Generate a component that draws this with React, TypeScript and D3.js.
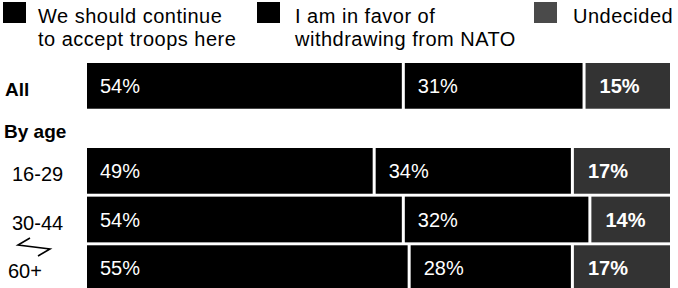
import React from "react";
import * as d3 from "d3";

const seriesNames = ["continue", "withdraw", "undecided"];
const legendLines = [
  ["We should continue", "to accept troops here"],
  ["I am in favor of", "withdrawing from NATO"],
  ["Undecided"],
];
const allValues = [54, 31, 15];
const ageGroups = ["16-29", "30-44", "60+"];
const ageValues = [
  [49, 34, 17],
  [54, 32, 14],
  [55, 28, 17],
];
const headerAll = "All";
const headerAge = "By age";

const W = 678;
const H = 288;
const colors = ["#000000", "#000000", "#333333"];
const FONT = "'Liberation Sans', Arial, Helvetica, sans-serif";

function BarRow({ values, y, h, x }: { values: number[]; y: number; h: number; x: d3.ScaleLinear<number, number> }) {
  const stack = d3.cumsum(values);
  return (
    <g>
      {values.map((v, i) => {
        const start = i === 0 ? 0 : stack[i - 1];
        const end = stack[i];
        const x0 = x(start) + (i === 0 ? 0 : 3);
        const x1 = x(end);
        return (
          <g key={i}>
            <rect x={x0} y={y} width={x1 - x0} height={h} fill={colors[i]} />
            <text
              x={x0 + (i === 2 ? 14 : 13)}
              y={y + h / 2 + 7}
              fill="#fff"
              fontSize={20}
              fontWeight={i === 2 ? "bold" : "normal"}
              fontFamily={FONT}
            >
              {v}%
            </text>
          </g>
        );
      })}
    </g>
  );
}

export default function App() {
  const x = d3.scaleLinear().domain([0, 100]).range([87, 670]);
  const yBand = d3.scaleBand<string>().domain(ageGroups).range([148, 291]).paddingInner(0.06).paddingOuter(0);
  const bh = yBand.bandwidth();
  const allY = 63;
  const legendX = [3, 257, 534];
  const legendTextX = [38, 295, 573];
  return (
    <svg width={W} height={H} style={{ position: "absolute", left: 0, top: 0, background: "#fff" }} fontFamily={FONT}>
      {seriesNames.map((s, i) => (
        <g key={s}>
          <rect x={legendX[i]} y={2} width={23} height={21} fill={i === 2 ? "#4a4a4a" : "#000"} />
          {legendLines[i].map((line, j) => (
            <text key={j} x={legendTextX[i]} y={23 + j * 23} fontSize={20} letterSpacing={0.5} fill="#000">
              {line}
            </text>
          ))}
        </g>
      ))}
      <text x={5} y={96} fontSize={19} fontWeight="bold">{headerAll}</text>
      <BarRow values={allValues} y={allY} h={bh} x={x} />
      <text x={4} y={138} fontSize={19} fontWeight="bold">{headerAge}</text>
      {ageGroups.map((g, i) => (
        <g key={g}>
          <text x={i === 2 ? 8 : 12} y={(yBand(g) as number) + bh / 2 + 10} fontSize={20}>{g}</text>
          <BarRow values={ageValues[i]} y={yBand(g) as number} h={bh} x={x} />
        </g>
      ))}
      <path d="M30,238 L18,245 L50,249 L38,256" fill="none" stroke="#000" strokeWidth={1.6} />
    </svg>
  );
}
